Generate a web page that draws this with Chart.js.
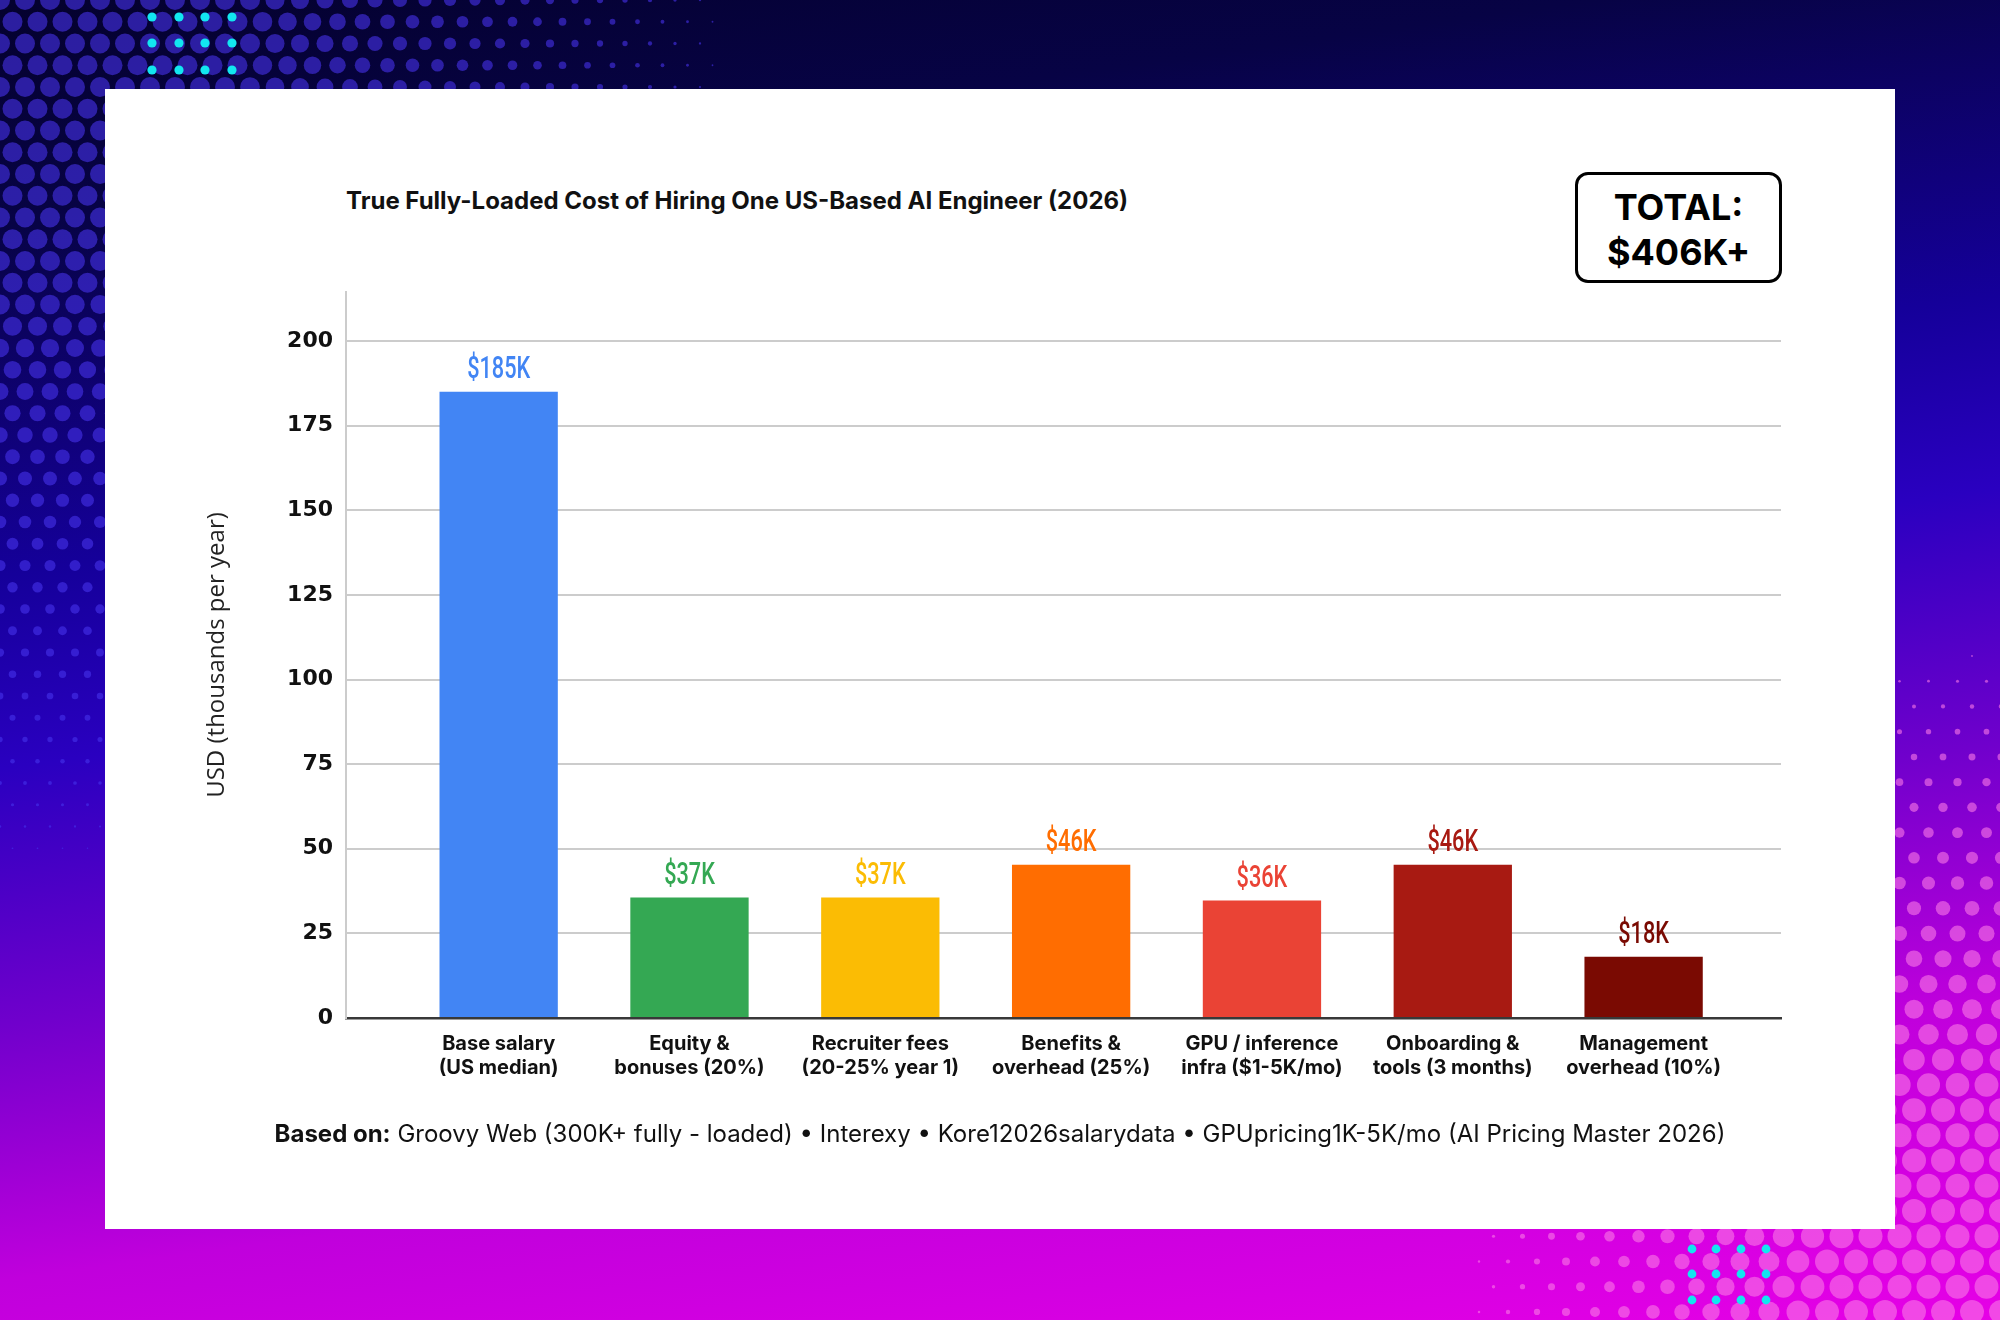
<!DOCTYPE html>
<html>
<head>
<meta charset="utf-8">
<script src="https://cdn.jsdelivr.net/npm/chart.js@4.4.1/dist/chart.umd.min.js"></script>
<style>
  html, body { margin: 0; padding: 0; }
  body { width: 2000px; height: 1320px; position: relative; overflow: hidden;
    background: linear-gradient(172deg, #04012e 0%, #070345 14%, #15009a 36%, #2a00c0 48%, #7000cc 64%, #c000dc 80%, #e600e6 100%); }
  #bg { position: absolute; left: 0; top: 0; }
  .card { position: absolute; left: 105px; top: 89px; width: 1790px; height: 1140px; background: #fff; }
  #chart { position: absolute; left: 0; top: 0; }
  .title { position: absolute; left: 346px; top: 186px; font: 700 24px Inter, sans-serif; color: #111; white-space: nowrap; }
  .total { position: absolute; left: 1575px; top: 172px; width: 201px; border: 3px solid #000; border-radius: 13px;
    font: 700 36px Inter, sans-serif; color: #000; text-align: center; line-height: 45px; padding-top: 10px; height: 95px; }
  .note { position: absolute; left: 0; width: 2000px; top: 1119px; text-align: center; font: 400 24px Inter, sans-serif; color: #111; white-space: nowrap; }
  .note b { font-weight: 700; }
</style>
</head>
<body>
<canvas id="bg" width="2000" height="1320"></canvas>
<div class="card"></div>
<div class="title">True Fully-Loaded Cost of Hiring One US-Based AI Engineer (2026)</div>
<div class="total">TOTAL:<br>$406K+</div>
<div class="note"><b>Based on:</b> Groovy Web (300K+ fully - loaded) • Interexy • Kore12026salarydata • GPUpricing1K-5K/mo (AI Pricing Master 2026)</div>
<canvas id="chart" width="2000" height="1320"></canvas>
<script>
// data
const categories = [
  ['Base salary', '(US median)'],
  ['Equity &', 'bonuses (20%)'],
  ['Recruiter fees', '(20-25% year 1)'],
  ['Benefits &', 'overhead (25%)'],
  ['GPU / inference', 'infra ($1-5K/mo)'],
  ['Onboarding &', 'tools (3 months)'],
  ['Management', 'overhead (10%)']
];
const costs = [185, 35.6, 35.6, 45.3, 34.7, 45.3, 18.1];
const valueLabels = ['$185K', '$37K', '$37K', '$46K', '$36K', '$46K', '$18K'];
const barColors = ['#4285F4', '#34A853', '#FBBC04', '#FF6D01', '#EA4335', '#A81A12', '#7A0A02'];
const yTicks = [0, 25, 50, 75, 100, 125, 150, 175, 200];

// background halftone dots
(function () {
  const c = document.getElementById('bg').getContext('2d');
  function halftone(cx, cy, rx, ry, step, maxR, color) {
    c.fillStyle = color;
    for (let row = 0; row * step * 0.87 < 1340; row++) {
      const y = row * step * 0.87;
      const off = (row % 2) * step / 2;
      for (let x = off; x < 2020; x += step) {
        const d = Math.hypot((x - cx) / rx, (y - cy) / ry);
        const t = 1 - d;
        if (t <= 0.05) continue;
        c.beginPath();
        c.arc(x, y, maxR * Math.min(1, t * 1.5), 0, Math.PI * 2);
        c.fill();
      }
    }
  }
  halftone(0, 0, 760, 900, 25, 10, 'rgba(70,50,235,0.6)');
  halftone(2000, 1320, 560, 700, 29, 12, 'rgba(250,120,230,0.6)');
  c.fillStyle = '#12e6f0';
  [[152, 17], [179, 17], [205, 17], [232, 17], [152, 43], [179, 43], [205, 43], [232, 43], [152, 70], [179, 70], [205, 70], [232, 70]]
    .forEach(p => { c.beginPath(); c.arc(p[0], p[1], 4.6, 0, Math.PI * 2); c.fill(); });
  [[1692, 1249], [1716, 1249], [1741, 1249], [1766, 1249], [1692, 1274], [1716, 1274], [1741, 1274], [1766, 1274], [1692, 1300], [1716, 1300], [1741, 1300], [1766, 1300]]
    .forEach(p => { c.beginPath(); c.arc(p[0], p[1], 4.4, 0, Math.PI * 2); c.fill(); });
})();

const valueLabelPlugin = {
  id: 'valueLabels',
  afterDatasetsDraw(chart) {
    const ctx = chart.ctx;
    chart.getDatasetMeta(0).data.forEach((bar, i) => {
      ctx.save();
      ctx.translate(bar.x, bar.y - 14);
      ctx.scale(0.7, 1);
      ctx.font = '500 31px Roboto, sans-serif';
      ctx.fillStyle = barColors[i];
      ctx.textAlign = 'center';
      ctx.textBaseline = 'alphabetic';
      ctx.fillText(valueLabels[i], 0, 0);
      ctx.restore();
    });
  }
};

new Chart(document.getElementById('chart'), {
  type: 'bar',
  data: {
    datasets: [{
      data: costs.map((v, i) => ({ x: i, y: v })),
      backgroundColor: barColors,
      borderWidth: 0,
      categoryPercentage: 1,
      barPercentage: 0.62
    }]
  },
  options: {
    responsive: false,
    animation: false,
    devicePixelRatio: 1,
    layout: { padding: { left: 199, right: 219, top: 292, bottom: 202 } },
    plugins: { legend: { display: false }, tooltip: { enabled: false } },
    scales: {
      x: {
        type: 'linear',
        min: -0.8,
        max: 6.72,
        offset: false,
        afterBuildTicks: (axis) => { axis.ticks = categories.map((_, i) => ({ value: i })); },
        afterFit: (axis) => { axis.height = 100; },
        grid: { display: false, offset: false, drawTicks: false },
        border: { display: true, color: '#383838', width: 2.5 },
        ticks: {
          autoSkip: false,
          maxRotation: 0,
          padding: 14,
          color: '#111',
          font: { family: 'Inter', weight: '700', size: 20 },
          callback: (value) => categories[value]
        }
      },
      y: {
        min: 0,
        max: 214.5,
        afterBuildTicks: (axis) => { axis.ticks = yTicks.map(v => ({ value: v })); },
        afterFit: (axis) => { axis.width = 147; },
        grid: {
          color: (ctx) => ctx.tick && ctx.tick.value === 0 ? 'rgba(0,0,0,0)' : '#cccccc',
          lineWidth: 2,
          drawTicks: false
        },
        border: { display: true, color: '#cccccc', width: 2 },
        ticks: {
          padding: 13,
          color: '#111',
          font: { family: 'DejaVu Sans', weight: '700', size: 22 }
        },
        title: {
          display: true,
          text: 'USD (thousands per year)',
          color: '#222',
          font: { family: 'Open Sans', weight: '400', size: 24 },
          padding: { top: 4, bottom: 4 }
        }
      }
    }
  },
  plugins: [valueLabelPlugin]
});
</script>
</body>
</html>
